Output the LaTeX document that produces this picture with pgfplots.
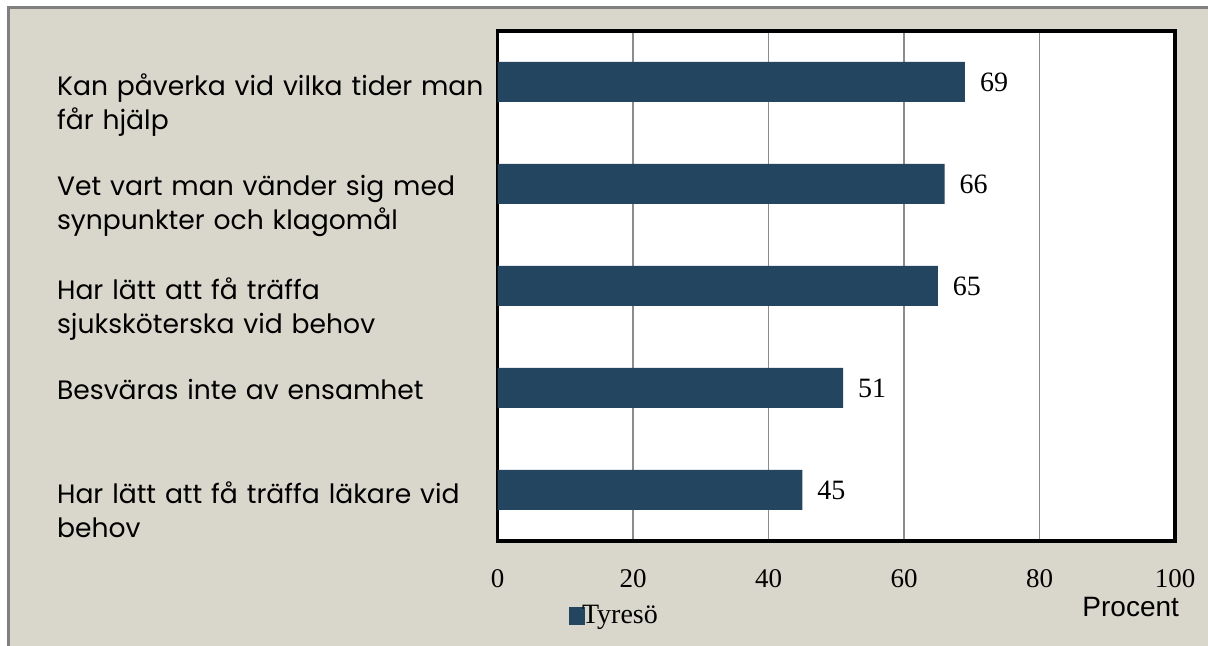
\documentclass[border=0pt]{standalone}
\usepackage{pgfplots}
\pgfplotsset{compat=1.18}
\usepackage{fontspec}
\setmainfont{Liberation Serif}
\newfontfamily\labfont{Poppins}
\newfontfamily\arialfont{Liberation Sans}
\definecolor{panel}{RGB}{217,215,203}
\definecolor{barc}{RGB}{35,69,96}
\definecolor{panelborder}{RGB}{128,128,128}
\begin{document}
\begin{tikzpicture}
\useasboundingbox (0,0) rectangle (604pt,323pt);
\fill[white] (0,0) rectangle (604pt,323pt);
\fill[panel] (4pt,0) rectangle (604pt,319.5pt);
\draw[panelborder,line width=1.2pt] (4.3pt,0) -- (4.3pt,319.2pt) -- (604pt,319.2pt);
\begin{axis}[
  at={(248.75pt,52.5pt)}, anchor=south west,
  scale only axis, width=338.75pt, height=255pt,
  xbar, bar width=20pt,
  xmin=0, xmax=100, ymin=-0.5, ymax=4.5,
  xtick={0,20,40,60,80,100},
  ytick={0,1,2,3,4},
  /pgf/number format/assume math mode=true,
  yticklabels={{Har lätt att få träffa läkare vid\\behov},
               {Besväras inte av ensamhet},
               {Har lätt att få träffa\\sjuksköterska vid behov},
               {Vet vart man vänder sig med\\synpunkter och klagomål},
               {Kan påverka vid vilka tider man\\får hjälp}},
  yticklabel style={text width=214pt, align=left, inner sep=0pt, anchor=north east,
     font=\labfont\fontsize{13.3}{17}\selectfont, yshift=4.5pt, xshift=-6pt},
  xticklabel style={font=\fontsize{13.5}{15}\selectfont, yshift=-10.5pt},
  major tick length=0pt,
  axis line style={line width=1.8pt, black},
  xmajorgrids, grid style={gray!90, line width=0.6pt},
  axis background/.style={fill=white},
  nodes near coords,
  nodes near coords style={font=\fontsize{14}{16}\selectfont, anchor=west, xshift=4pt, black},
  legend style={at={(0.105,-0.147)}, anchor=west, draw=none, fill=none,
     font=\fontsize{14}{16}\selectfont, inner sep=0pt},
  legend cell align=left,
]
\addplot[fill=barc, draw=none,
  legend image code/.code={\fill[barc] (0pt,-4.5pt) rectangle (8pt,4.5pt);}]
  coordinates {(45,0) (51,1) (65,2) (66,3) (69,4)};
\addlegendentry{\hspace{-3.5pt}Tyresö}
\end{axis}
\node[anchor=east, font=\arialfont\fontsize{14}{16}\selectfont] at (593pt,19.5pt) {Procent};
\end{tikzpicture}
\end{document}
